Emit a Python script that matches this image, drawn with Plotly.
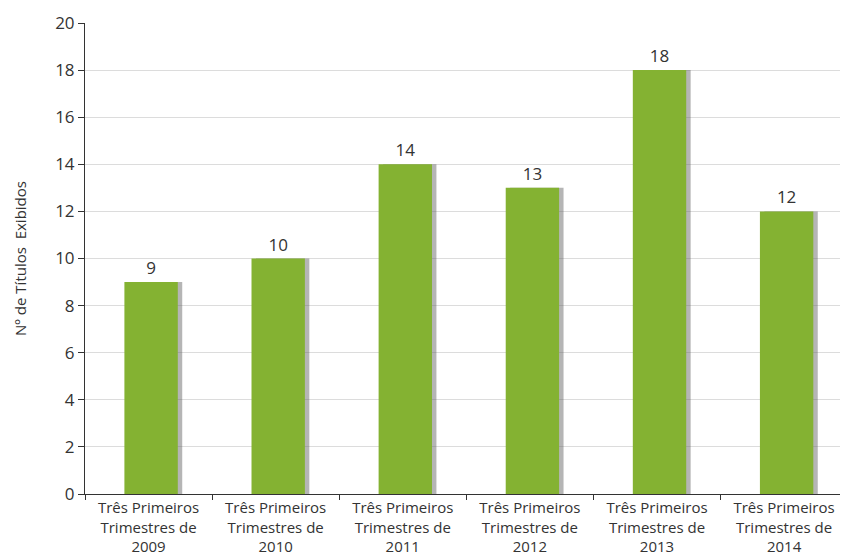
import plotly.graph_objects as go

categories = [
    "Três Primeiros<br>Trimestres de<br>2009",
    "Três Primeiros<br>Trimestres de<br>2010",
    "Três Primeiros<br>Trimestres de<br>2011",
    "Três Primeiros<br>Trimestres de<br>2012",
    "Três Primeiros<br>Trimestres de<br>2013",
    "Três Primeiros<br>Trimestres de<br>2014",
]
values = [9, 10, 14, 13, 18, 12]
y_ticks = [0, 2, 4, 6, 8, 10, 12, 14, 16, 18, 20]

FONT = "Open Sans, DejaVu Sans, sans-serif"

fig = go.Figure()
# soft shadow behind bars
fig.add_trace(go.Bar(
    x=categories, y=values, width=0.42, offset=-0.155,
    marker=dict(color="rgba(90,90,90,0.45)", line=dict(width=0)),
    hoverinfo="skip", showlegend=False,
))
fig.add_trace(go.Bar(
    x=categories, y=values, width=0.42, offset=-0.19,
    marker=dict(color="#84b232", line=dict(width=0)),
    text=[str(v) for v in values], textposition="outside",
    textfont=dict(size=17, color="#333333", family=FONT),
    cliponaxis=False, showlegend=False,
))

fig.update_layout(
    width=841, height=556,
    margin=dict(l=85, r=1, t=23, b=62),
    plot_bgcolor="white", paper_bgcolor="white",
    barmode="overlay",
    font=dict(family=FONT, color="#333333"),
    xaxis=dict(
        type="category", tickson="boundaries", ticks="outside", ticklen=5,
        range=[-0.5, 5.44],
        tickcolor="#333333", showline=True, linecolor="#333333", linewidth=1,
        showgrid=False, tickfont=dict(size=15, color="#333333"),
        automargin=False,
    ),
    yaxis=dict(
        range=[0, 20], tickvals=y_ticks, ticks="outside", ticklen=6,
        tickcolor="#333333", showline=True, linecolor="#333333", linewidth=1,
        gridcolor="#dcdcdc", gridwidth=1, zeroline=False,
        tickfont=dict(size=17, color="#333333"),
        title=dict(text="Nº de Títulos  Exibidos", font=dict(size=15, color="#333333"), standoff=24),
        automargin=False,
    ),
)

fig.write_html(
    "out.html",
    config={"displayModeBar": False},
    post_script="document.body.style.margin='0';document.body.style.overflow='hidden';",
)
